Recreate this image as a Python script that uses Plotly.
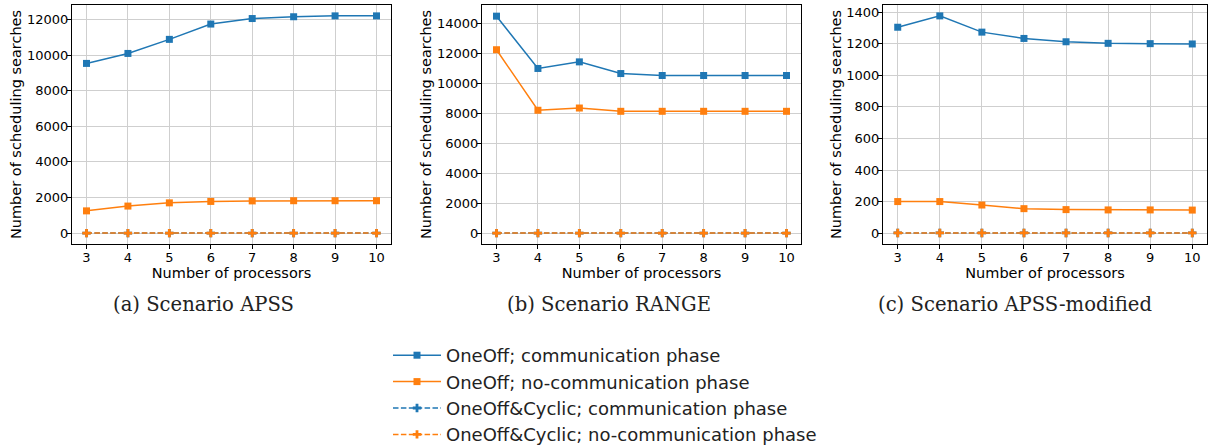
import plotly.graph_objects as go

processors = [3, 4, 5, 6, 7, 8, 9, 10]

# Scenario APSS
apss_oneoff_comm = [9530, 10090, 10880, 11740, 12050, 12150, 12200, 12200]
apss_oneoff_nocomm = [1250, 1520, 1700, 1780, 1810, 1820, 1820, 1820]
apss_cyclic_comm = [3, 3, 3, 3, 3, 3, 3, 3]
apss_cyclic_nocomm = [2, 2, 2, 2, 2, 2, 2, 2]

# Scenario RANGE
range_oneoff_comm = [14480, 10990, 11430, 10650, 10520, 10520, 10520, 10520]
range_oneoff_nocomm = [12240, 8200, 8350, 8130, 8130, 8130, 8130, 8130]
range_cyclic_comm = [3, 3, 3, 3, 3, 3, 3, 3]
range_cyclic_nocomm = [2, 2, 2, 2, 2, 2, 2, 2]

# Scenario APSS-modified
mod_oneoff_comm = [1305, 1377, 1274, 1234, 1213, 1203, 1201, 1199]
mod_oneoff_nocomm = [200, 200, 178, 155, 149, 147, 147, 146]
mod_cyclic_comm = [1, 1, 1, 1, 1, 1, 1, 1]
mod_cyclic_nocomm = [1, 1, 1, 1, 1, 1, 1, 1]

series_names = [
    "OneOff; communication phase",
    "OneOff; no-communication phase",
    "OneOff&Cyclic; communication phase",
    "OneOff&Cyclic; no-communication phase",
]
captions = ["(a) Scenario APSS", "(b) Scenario RANGE", "(c) Scenario APSS-modified"]
y_ticks = [
    [0, 2000, 4000, 6000, 8000, 10000, 12000],
    [0, 2000, 4000, 6000, 8000, 10000, 12000, 14000],
    [0, 200, 400, 600, 800, 1000, 1200, 1400],
]
y_ranges = [[-610, 12810], [-725, 15225], [-69, 1446]]

panels = [
    [apss_oneoff_comm, apss_oneoff_nocomm, apss_cyclic_comm, apss_cyclic_nocomm],
    [range_oneoff_comm, range_oneoff_nocomm, range_cyclic_comm, range_cyclic_nocomm],
    [mod_oneoff_comm, mod_oneoff_nocomm, mod_cyclic_comm, mod_cyclic_nocomm],
]

BLUE = "#1f77b4"
ORANGE = "#ff7f0e"
colors = [BLUE, ORANGE, BLUE, ORANGE]
dashes = ["solid", "solid", "5.5px,2.4px", "5.5px,2.4px"]
symbols = ["square", "square", "cross", "cross"]

W, H = 1210, 447
x_domains_px = [(72, 391), (482, 801), (883, 1207)]
caption_centers_px = [203, 609, 1015]
y_top_px, y_bot_px = 5, 244


def px_x(v):
    return v / W


def px_y(v):
    return 1 - v / H


fig = go.Figure()
for p, data in enumerate(panels):
    ax = "" if p == 0 else str(p + 1)
    for s, vals in enumerate(data):
        fig.add_trace(go.Scatter(
            x=processors, y=vals, mode="lines+markers",
            name=series_names[s],
            line=dict(color=colors[s], width=1.5, dash=dashes[s]),
            marker=dict(symbol=symbols[s], size=7, color=colors[s]),
            showlegend=(p == 0),
            xaxis="x" + ax, yaxis="y" + ax,
        ))

font_sans = "DejaVu Sans"
layout = dict(
    width=W, height=H,
    margin=dict(l=0, r=0, t=0, b=0, autoexpand=False),
    paper_bgcolor="white", plot_bgcolor="white",
    font=dict(family=font_sans, size=13, color="black"),
    showlegend=True,
    legend=dict(
        x=px_x(388), y=px_y(337), xanchor="left", yanchor="top",
        font=dict(family=font_sans, size=18, color="#222"),
        bgcolor="rgba(0,0,0,0)", tracegroupgap=0, itemwidth=48,
    ),
)
annotations = []
for p in range(3):
    ax = "" if p == 0 else str(p + 1)
    x0, x1 = x_domains_px[p]
    layout["xaxis" + ax] = dict(
        domain=[px_x(x0), px_x(x1)], range=[2.65, 10.35],
        anchor="y" + ax, tickvals=processors, automargin=False,
        showgrid=True, gridcolor="#cfcfcf", gridwidth=1,
        showline=True, linecolor="black", linewidth=1, mirror=True,
        ticks="outside", ticklen=4, tickcolor="black", ticklabelstandoff=-3,
        tickfont=dict(size=13), zeroline=False,
        title=dict(text="Number of processors", font=dict(size=14.5), standoff=0),
    )
    layout["yaxis" + ax] = dict(
        domain=[px_y(y_bot_px), px_y(y_top_px)], range=y_ranges[p],
        anchor="x" + ax, tickvals=y_ticks[p], tickformat="d", automargin=False,
        showgrid=True, gridcolor="#cfcfcf", gridwidth=1,
        showline=True, linecolor="black", linewidth=1, mirror=True,
        ticks="outside", ticklen=4, tickcolor="black", ticklabelstandoff=-4,
        tickfont=dict(size=13), zeroline=False,
        title=dict(text="Number of scheduling searches", font=dict(size=14.5), standoff=1),
    )
    annotations.append(dict(
        text=captions[p], x=px_x(caption_centers_px[p]), y=px_y(304),
        xref="paper", yref="paper", showarrow=False,
        xanchor="center", yanchor="middle",
        font=dict(family="DejaVu Serif", size=19.6, color="#222"),
    ))
layout["annotations"] = annotations
fig.update_layout(**layout)
fig.write_html(
    "out.html",
    config={"displayModeBar": False},
    post_script="document.body.style.margin='0';document.body.style.overflow='hidden';",
)
